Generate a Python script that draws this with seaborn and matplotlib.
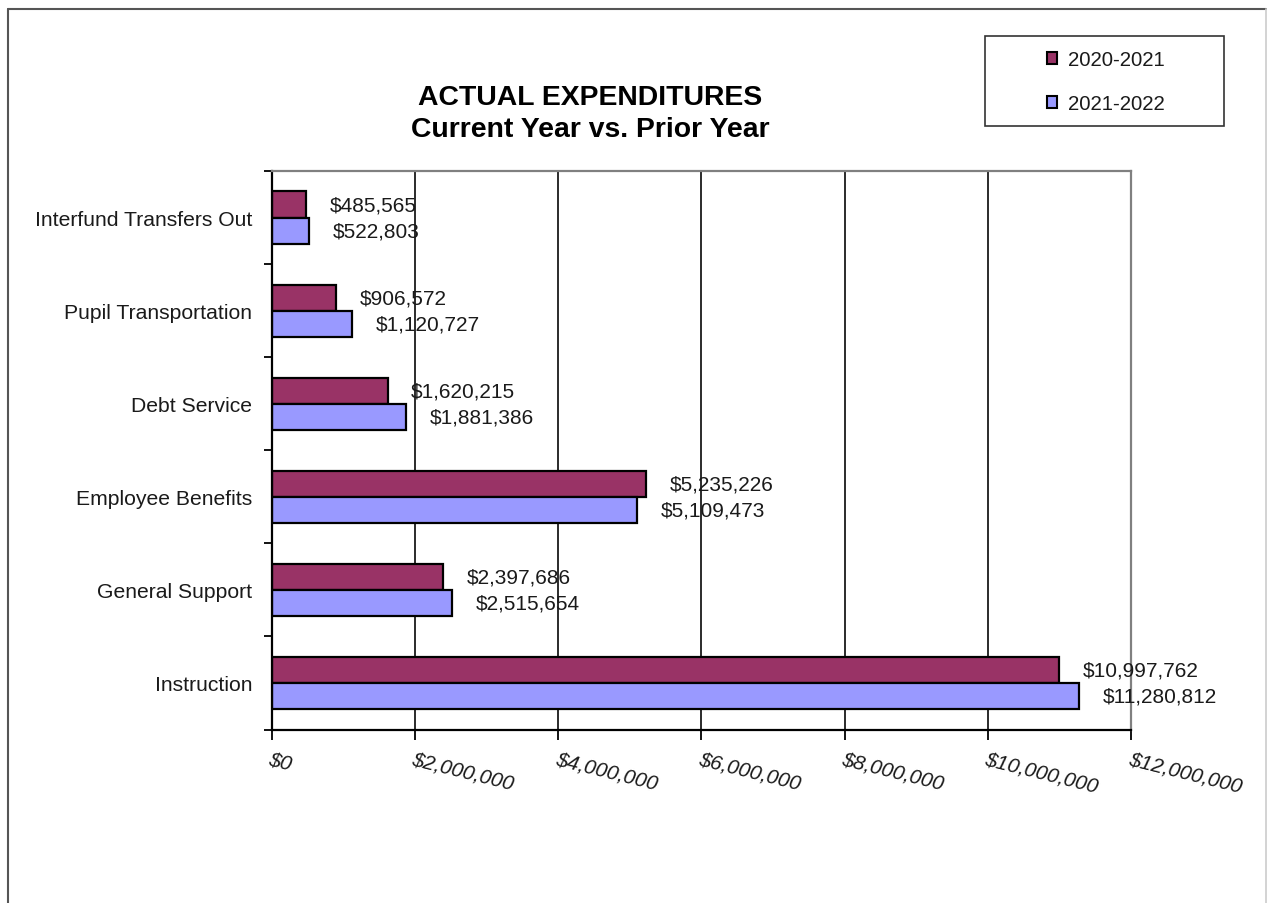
import matplotlib
matplotlib.use("Agg")
import matplotlib.pyplot as plt
from matplotlib.lines import Line2D
from matplotlib.patches import Patch, Rectangle
import pandas as pd
import seaborn as sns

# ---- data -------------------------------------------------------------
categories = [
    "Interfund Transfers Out",
    "Pupil Transportation",
    "Debt Service",
    "Employee Benefits",
    "General Support",
    "Instruction",
]
prior_year = [485565, 906572, 1620215, 5235226, 2397686, 10997762]      # 2020-2021
current_year = [522803, 1120727, 1881386, 5109473, 2515654, 11280812]   # 2021-2022
series_names = ["2020-2021", "2021-2022"]
x_ticks = [0, 2000000, 4000000, 6000000, 8000000, 10000000, 12000000]

title_lines = ["ACTUAL EXPENDITURES", "Current Year vs. Prior Year"]

# ---- styling ----------------------------------------------------------
sns.set_theme(style="white")
plt.rcParams["font.family"] = ["Liberation Sans", "DejaVu Sans"]

colors = {"2020-2021": "#993366", "2021-2022": "#9999FF"}

df = pd.DataFrame({
    "Category": categories * 2,
    "Amount": prior_year + current_year,
    "Year": [series_names[0]] * len(categories) + [series_names[1]] * len(categories),
})

W, H = 1268, 904
fig = plt.figure(figsize=(W / 100, H / 100), dpi=100)
ax = fig.add_axes([271.5 / W, 1 - 730.5 / H, (1131 - 271.5) / W, (730.5 - 172) / H])

sns.barplot(
    data=df, y="Category", x="Amount", hue="Year",
    order=categories, hue_order=series_names, palette=colors,
    orient="h", width=0.56, edgecolor="black", linewidth=1.6,
    saturation=1, legend=False, ax=ax,
)

# value labels at the end of each bar
for container, values in zip(ax.containers, [prior_year, current_year]):
    ax.bar_label(container, labels=[f"${v:,.0f}" for v in values],
                 padding=17, fontsize=15, color="#1a1a1a")

# x axis
ax.set_xlim(x_ticks[0], x_ticks[-1])
ax.set_xticks(x_ticks)
ax.set_xticklabels([f"${v:,.0f}" for v in x_ticks], fontsize=15, style="italic",
                   rotation=-14, ha="left", va="top", rotation_mode="anchor",
                   color="#1a1a1a")
ax.tick_params(axis="x", length=7, width=1.3, color="black", pad=7, bottom=True)

# y axis: labels at category centres, tick marks on category boundaries
ax.set_ylim(len(categories) - 0.5, -0.5)
ax.set_yticks(range(len(categories)))
ax.set_yticklabels(categories, fontsize=15.2, color="#1a1a1a")
ax.tick_params(axis="y", which="major", length=0, pad=14)
ax.set_yticks([i - 0.5 for i in range(len(categories) + 1)], minor=True)
ax.tick_params(axis="y", which="minor", length=6, width=1.3, color="black", left=True)
ax.set_xlabel("")
ax.set_ylabel("")

ax.grid(axis="x", color="#1a1a1a", linewidth=1.3)
ax.grid(axis="y", visible=False)
ax.set_axisbelow(True)

for side in ("left", "bottom"):
    ax.spines[side].set_color("black")
    ax.spines[side].set_linewidth(1.6)
for side in ("top", "right"):
    ax.spines[side].set_color("#808080")
    ax.spines[side].set_linewidth(1.6)
    ax.spines[side].set_visible(True)

# title
fig.text(590 / W, 1 - 98 / H, title_lines[0], ha="center", va="center",
         fontsize=20.4, fontweight="bold", color="black")
fig.text(590 / W, 1 - 130 / H, title_lines[1], ha="center", va="center",
         fontsize=20.4, fontweight="bold", color="black")

# legend with a boxed frame
handles = [Patch(facecolor=colors[n], edgecolor="black", linewidth=1.5) for n in series_names]
leg = ax.legend(handles, series_names, loc="upper left",
                bbox_to_anchor=(1046.5 / W, 1 - 51 / H), bbox_transform=fig.transFigure,
                frameon=False, fontsize=14.7, borderpad=0, borderaxespad=0,
                handlelength=0.53, handleheight=0.53, handletextpad=0.5,
                labelspacing=1.22)
for t in leg.get_texts():
    t.set_color("#1a1a1a")
fig.add_artist(Rectangle((985 / W, 1 - 127 / H), (1224 - 985) / W, 90 / H,
                         transform=fig.transFigure, fill=False,
                         edgecolor="#333333", linewidth=1.2))

# outer chart border
fig.add_artist(Line2D([7.5 / W, 7.5 / W], [0, 1 - 10 / H], transform=fig.transFigure,
                      color="#555555", linewidth=1.5))
fig.add_artist(Line2D([7.5 / W, 1266 / W], [1 - 10 / H, 1 - 10 / H], transform=fig.transFigure,
                      color="#555555", linewidth=1.5))
fig.add_artist(Line2D([1266 / W, 1266 / W], [0, 1 - 10 / H], transform=fig.transFigure,
                      color="#cccccc", linewidth=1.2))

fig.savefig("out.png", dpi=100, facecolor="white")
